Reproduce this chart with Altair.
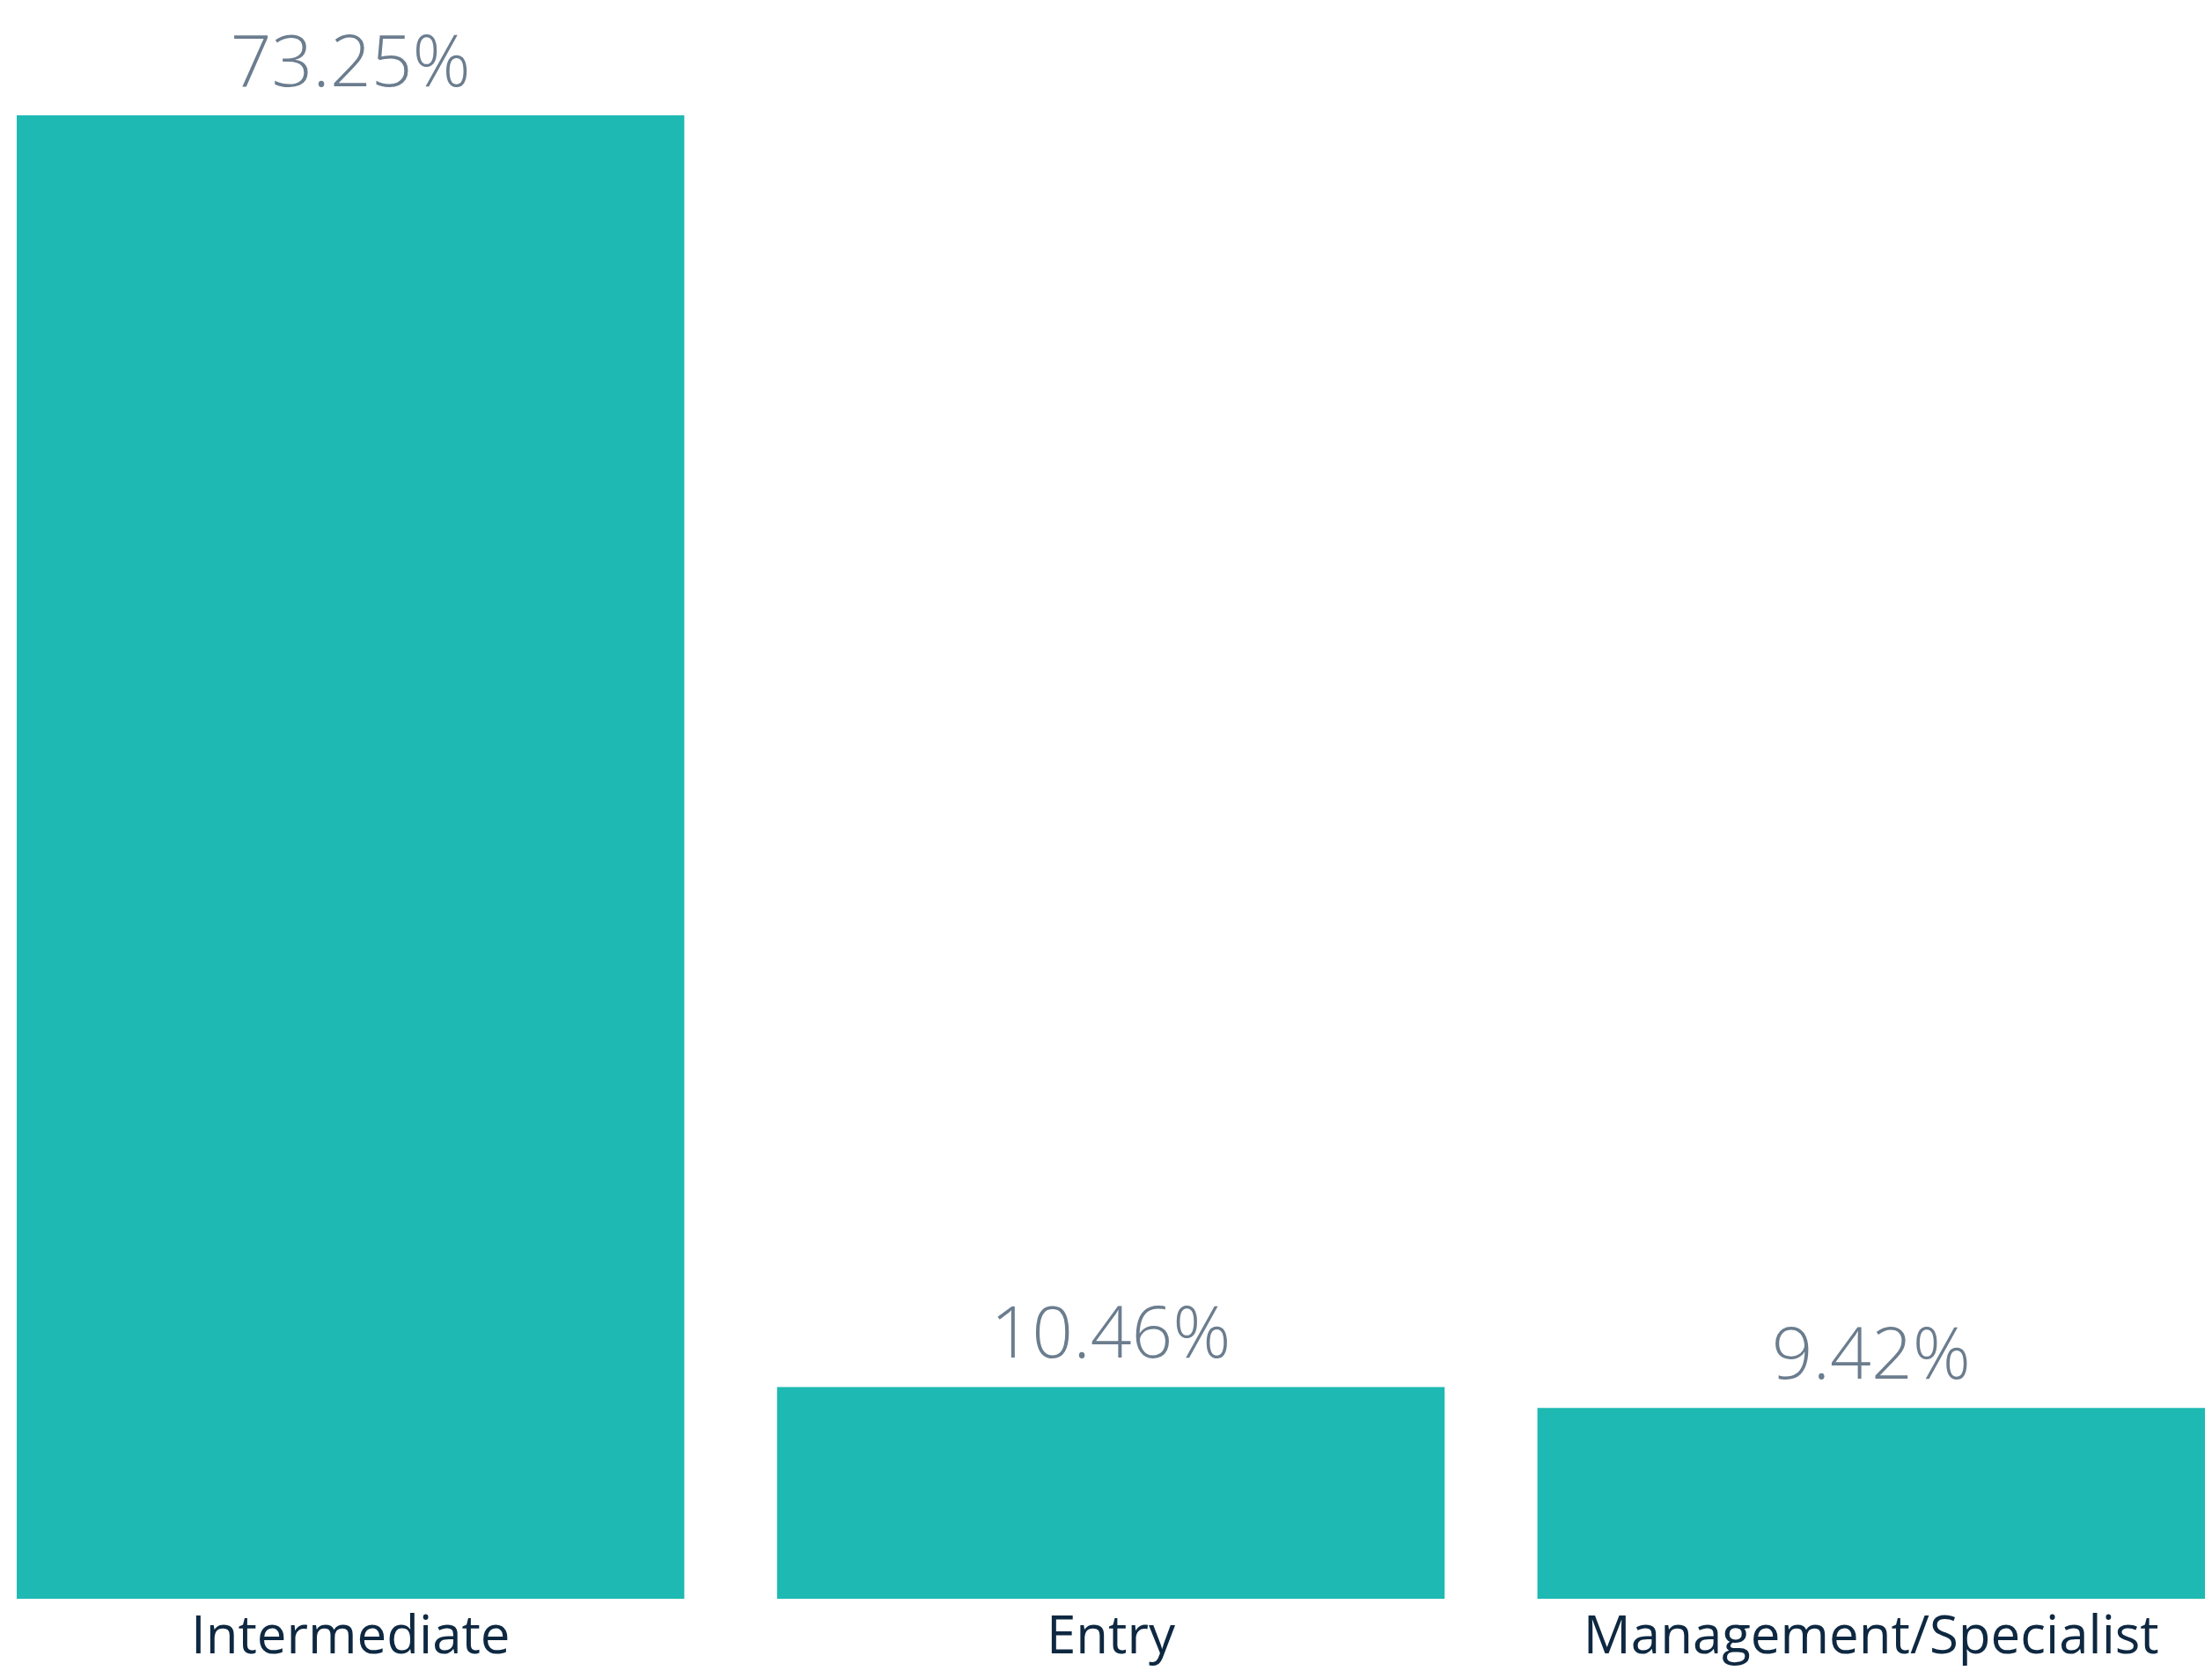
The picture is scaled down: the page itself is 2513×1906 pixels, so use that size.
import altair as alt
import pandas as pd

categories = ["Intermediate", "Entry", "Management/Specialist"]
values = [73.25, 10.46, 9.42]
labels = ["73.25%", "10.46%", "9.42%"]

df = pd.DataFrame({"category": categories, "value": values, "label": labels})

x = alt.X("category:N", sort=categories, title=None,
          scale=alt.Scale(paddingInner=0.122, paddingOuter=0),
          axis=alt.Axis(labelAngle=0, labelFontSize=60, labelFont="Open Sans",
                        labelColor="#0E2841", labelPadding=14, labelLimit=0,
                        ticks=False, domain=False, grid=False))
y = alt.Y("value:Q", title=None, axis=None,
          scale=alt.Scale(domain=[0, 77.73], nice=False, zero=True))

bars = alt.Chart(df).mark_bar(color="#1FB9B3").encode(x=x, y=y)
text = alt.Chart(df).mark_text(baseline="alphabetic", dy=-33, fontSize=82,
                               font="Open Sans", fontWeight=300,
                               color="#6B7D8E").encode(x=x, y=y, text="label:N")

chart = (bars + text).properties(
    width=2486, height=1788,
    autosize=alt.AutoSizeParams(type="none"),
    padding={"left": 11, "top": 20, "right": 0, "bottom": 80},
).configure_view(stroke=None)

chart.save("out.html", embed_options={"renderer": "svg", "actions": False})
